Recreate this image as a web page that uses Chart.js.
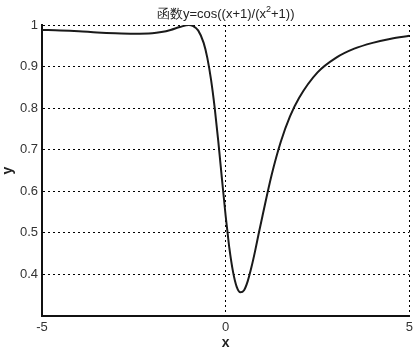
<!DOCTYPE html>
<html>
<head>
<meta charset="utf-8">
<script src="https://cdn.jsdelivr.net/npm/chart.js@4/dist/chart.umd.min.js"></script>
<style>
  html, body { margin: 0; padding: 0; background: #fff; }
  #wrap { width: 417px; height: 353px; }
</style>
</head>
<body>
<div id="wrap"><canvas id="plot" width="417" height="353"></canvas></div>
<script>
// values
const xValues = [-5, -4.5, -4, -3.5, -3, -2.5, -2, -1.75, -1.5, -1.25, -1, -0.9, -0.75, -0.6, -0.5, -0.4, -0.3, -0.2, -0.1, 0, 0.05, 0.1, 0.2, 0.3, 0.4, 0.5, 0.6, 0.7, 0.8, 0.9, 1, 1.25, 1.5, 1.75, 2, 2.5, 3, 3.5, 4, 4.5, 5];
const yValues = [0.988, 0.987, 0.985, 0.982, 0.980, 0.979, 0.980, 0.983, 0.988, 0.995, 1.0, 0.998, 0.987, 0.957, 0.921, 0.869, 0.801, 0.719, 0.628, 0.540, 0.501, 0.463, 0.406, 0.370, 0.357, 0.362, 0.384, 0.417, 0.456, 0.499, 0.540, 0.639, 0.719, 0.780, 0.825, 0.886, 0.921, 0.943, 0.957, 0.967, 0.974];
const xTicks = [-5, 0, 5];
const yTicks = [0.4, 0.5, 0.6, 0.7, 0.8, 0.9, 1];
// title pieces: normal text, superscript, normal text
const titleParts = ["函数y=cos((x+1)/(x", "2", "+1))"];

const ctx = document.getElementById("plot").getContext("2d");
const font = "'Liberation Sans', Arial, sans-serif";

const titlePlugin = {
	id: "topTitle",
	afterDraw(chart) {
		const c = chart.ctx;
		const a = chart.chartArea;
		const big = "13px " + font;
		const small = "9px " + font;
		c.save();
		c.fillStyle = "#222";
		c.textBaseline = "alphabetic";
		c.textAlign = "left";
		c.font = big;
		const w0 = c.measureText(titleParts[0]).width;
		const w2 = c.measureText(titleParts[2]).width;
		c.font = small;
		const w1 = c.measureText(titleParts[1]).width;
		let x = (a.left + a.right) / 2 - (w0 + w1 + w2) / 2;
		const base = 18;
		c.font = big;
		c.fillText(titleParts[0], x, base);
		x += w0;
		c.font = small;
		c.fillText(titleParts[1], x, base - 6);
		x += w1;
		c.font = big;
		c.fillText(titleParts[2], x, base);
		c.restore();
	},
};

new Chart(ctx, {
	type: "line",
	data: {
		datasets: [
			{
				data: xValues.map((x, i) => ({ x: x, y: yValues[i] })),
				borderColor: "#1a1a1a",
				borderWidth: 2,
				pointRadius: 0,
				cubicInterpolationMode: "monotone",
				fill: false,
			},
		],
	},
	options: {
		responsive: false,
		animation: false,
		layout: { padding: { top: 25, right: 5, left: 0, bottom: 0 } },
		plugins: {
			legend: { display: false },
			tooltip: { enabled: false },
		},
		scales: {
			x: {
				type: "linear",
				min: -5,
				max: 5,
				afterBuildTicks(scale) {
					scale.ticks = xTicks.map((v) => ({ value: v }));
				},
				afterFit(scale) {
					scale.height = 37;
				},
				ticks: {
					color: "#333",
					font: { size: 13, family: font },
					padding: 4,
					maxRotation: 0,
				},
				grid: { color: "#000", drawTicks: false, lineWidth: 1 },
				border: { color: "#111", width: 2, dash: [2, 3] },
				title: {
					display: true,
					text: "x",
					color: "#222",
					font: { size: 14, weight: "bold", family: font },
					padding: { top: 0, bottom: 1 },
				},
			},
			y: {
				min: 0.3,
				max: 1,
				afterBuildTicks(scale) {
					scale.ticks = yTicks.map((v) => ({ value: v }));
				},
				afterFit(scale) {
					scale.width = 42;
				},
				ticks: {
					color: "#333",
					font: { size: 13, family: font },
					padding: 4,
					callback: (v) => String(Math.round(v * 10) / 10),
				},
				grid: { color: "#000", drawTicks: false, lineWidth: 1 },
				border: { color: "#111", width: 2, dash: [2, 3] },
				title: {
					display: true,
					text: "y",
					color: "#222",
					font: { size: 14, weight: "bold", family: font },
					padding: { top: 0, bottom: 0 },
				},
			},
		},
	},
	plugins: [titlePlugin],
});
</script>
</body>
</html>
